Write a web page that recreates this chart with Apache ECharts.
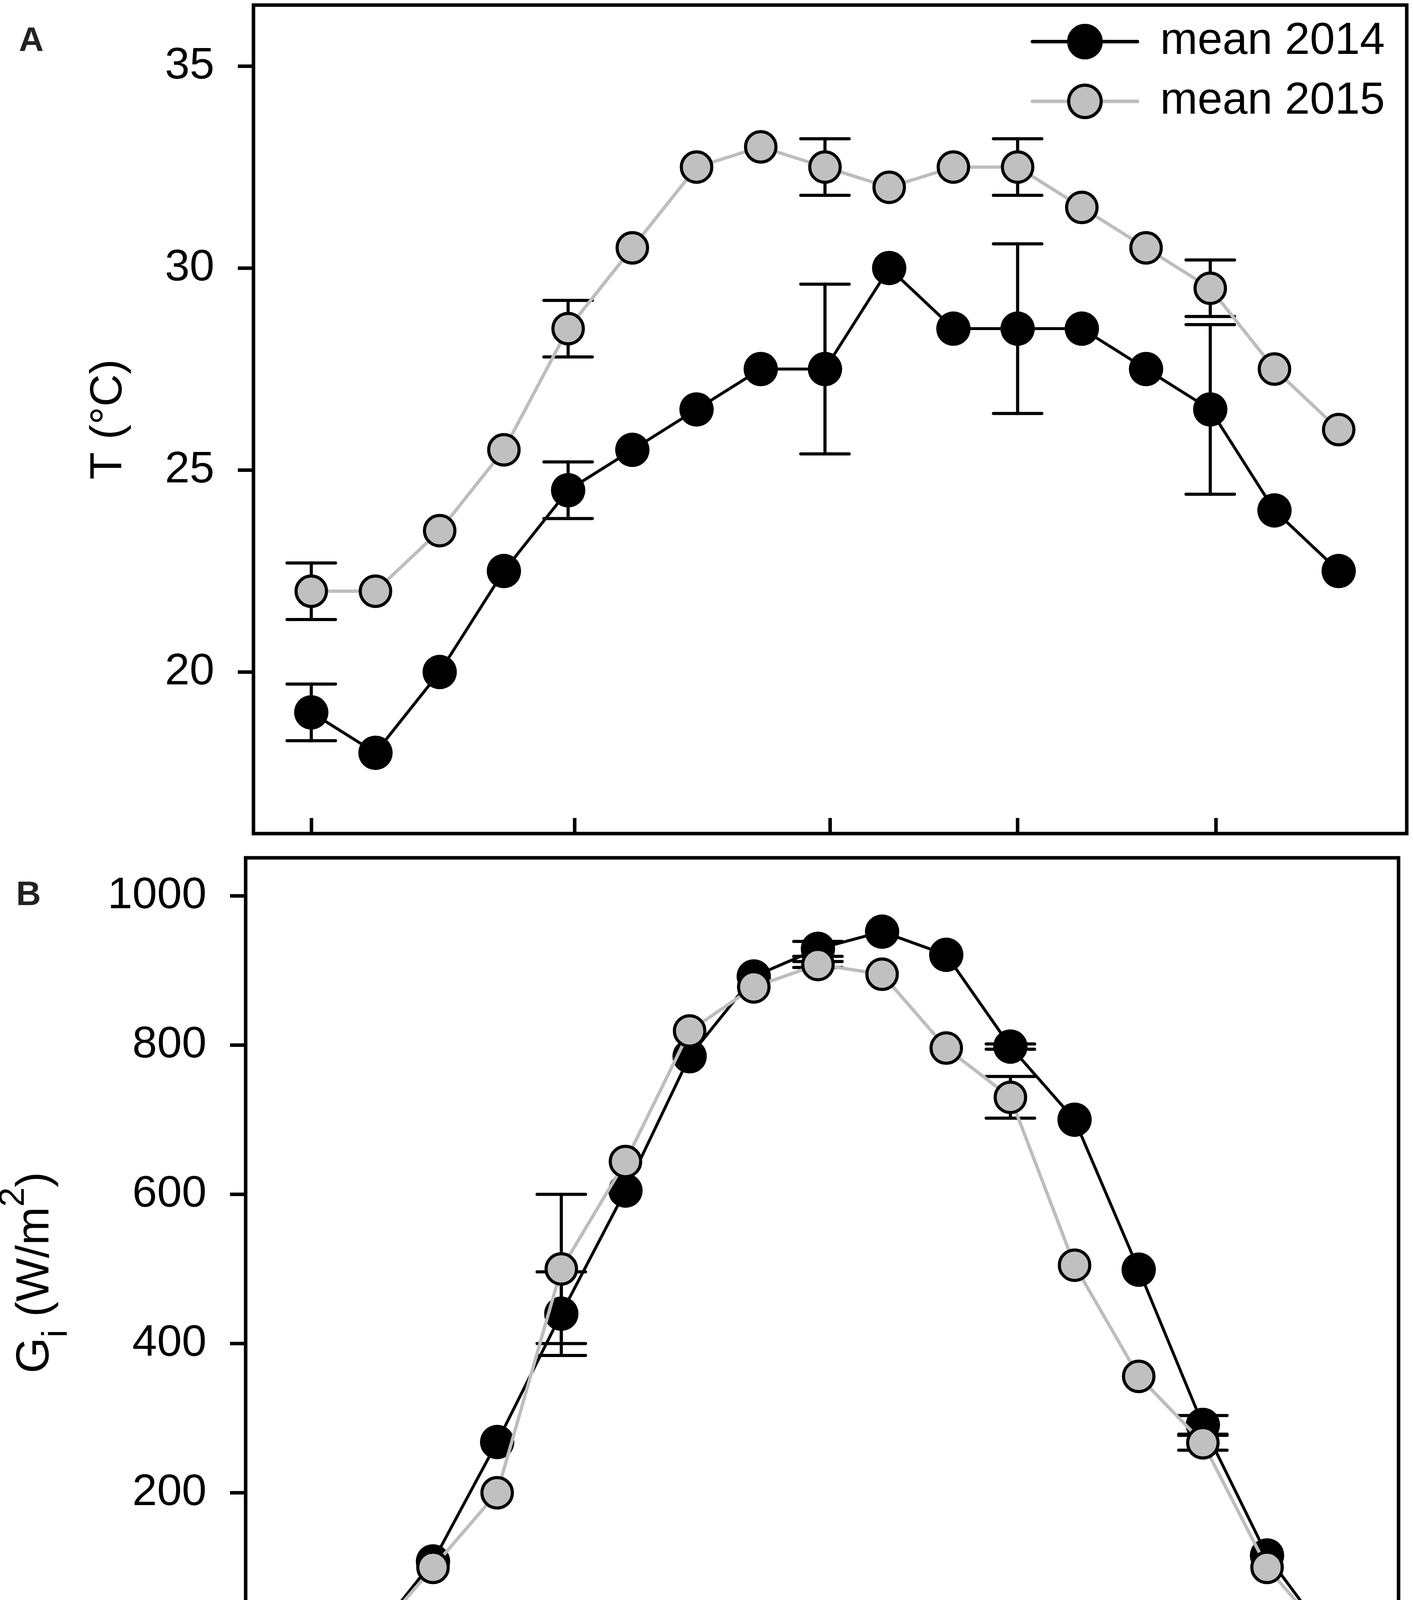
<!DOCTYPE html>
<html>
<head>
<meta charset="utf-8">
<title>T and Gi, mean 2014 / 2015</title>
<script src="https://cdn.jsdelivr.net/npm/echarts@6/dist/echarts.min.js"></script>
<style>
html, body { margin: 0; padding: 0; background: #fff; }
#chart { width: 3618px; height: 4466px; }
</style>
</head>
<body>
<div id="chart"></div>
<script>
// panel A - air temperature, hourly means
var hoursA = [4, 5, 6, 7, 8, 9, 10, 11, 12, 13, 14, 15, 16, 17, 18, 19, 20];
var tempMean2014 = [19, 18, 20, 22.5, 24.5, 25.5, 26.5, 27.5, 27.5, 30, 28.5, 28.5, 28.5, 27.5, 26.5, 24, 22.5];
var tempMean2015 = [22, 22, 23.5, 25.5, 28.5, 30.5, 32.5, 33, 32.5, 32, 32.5, 32.5, 31.5, 30.5, 29.5, 27.5, 26];
var tempErrHours = [4, 8, 12, 15, 18];
var tempErr2014 = [0.7, 0.7, 2.1, 2.1, 2.1];
var tempErr2015 = [0.7, 0.7, 0.7, 0.7, 0.7];
var tempTicks = [20, 25, 30, 35];
var hourTicksA = [4, 8.1, 12.08, 15, 18.09];

// panel B - irradiance, hourly means
var hoursB = [3.9, 4.9, 5.9, 6.9, 7.9, 8.9, 9.9, 10.9, 11.9, 12.9, 13.9, 14.9, 15.9, 16.9, 17.9, 18.9, 19.9, 20.5];
var gi2014 = [0, 0, 108, 268, 440, 605, 785, 892, 929, 952, 921, 798, 700, 499, 291, 116, 0];
var gi2015 = [0, 0, 100, 200, 500, 644, 819, 878, 908, 895, 796, 730, 505, 356, 267, 100, 0, 0];
var giErrHours = [7.9, 11.9, 14.9, 17.9];
var giErr2014 = [56, 10, 3.5, 12.5];
var giErr2015 = [100, 4, 28, 10];
var giTicks = [0, 200, 400, 600, 800, 1000];
var hourTicksB = [4, 7.96, 12, 15.01, 17.9];
var hourTickLabels = ['4:00', '8:00', '12:00', '15:00', '18:00'];

var FONT = '"Liberation Sans", Arial, sans-serif';

function pairs(xs, ys) {
    return ys.map(function (y, i) { return [xs[i], y]; });
}
// [hour, low, high] for every hour that has an error bar
function errRows(errHours, err, xs, ys) {
    return errHours.map(function (h, k) {
        var i = xs.indexOf(h);
        return [h, ys[i] - err[k], ys[i] + err[k]];
    });
}

function renderErrBar(params, api) {
    var top = api.coord([api.value(0), api.value(2)]);
    var bot = api.coord([api.value(0), api.value(1)]);
    var w = 62;
    var st = { stroke: '#000', lineWidth: 8, lineCap: 'round' };
    return {
        type: 'group',
        children: [
            { type: 'line', shape: { x1: top[0], y1: top[1], x2: bot[0], y2: bot[1] }, style: st },
            { type: 'line', shape: { x1: top[0] - w, y1: top[1], x2: top[0] + w, y2: top[1] }, style: st },
            { type: 'line', shape: { x1: bot[0] - w, y1: bot[1], x2: bot[0] + w, y2: bot[1] }, style: st }
        ]
    };
}

function errSeries(data, gi) {
    return {
        type: 'custom',
        xAxisIndex: gi,
        yAxisIndex: gi,
        data: data,
        encode: { x: 0, y: [1, 2] },
        renderItem: renderErrBar,
        clip: false,
        silent: true,
        z: 2
    };
}

function blackLine(data, gi) {
    return {
        type: 'line',
        name: 'mean 2014',
        xAxisIndex: gi,
        yAxisIndex: gi,
        data: data,
        symbol: 'circle',
        symbolSize: 88,
        itemStyle: { color: '#000' },
        lineStyle: { color: '#000', width: 7.5 },
        silent: true,
        z: 3
    };
}

function grayLine(data, gi) {
    return {
        type: 'line',
        name: 'mean 2015',
        xAxisIndex: gi,
        yAxisIndex: gi,
        data: data,
        symbol: 'circle',
        symbolSize: 78,
        itemStyle: { color: '#c0c0c0', borderColor: '#000', borderWidth: 8 },
        lineStyle: { color: '#bdbdbd', width: 8.5 },
        silent: true,
        z: 4
    };
}

var tickLine = { color: '#000', width: 9 };
var labelFont = { fontSize: 114, color: '#000', fontFamily: FONT };
function plainNumber(v) { return String(v); }

var myChart = echarts.init(document.getElementById('chart'));

var option = {
    animation: false,
    backgroundColor: '#fff',
    textStyle: { fontFamily: FONT },
    graphic: [
        { type: 'text', x: 80, y: 106, style: { text: 'A', fontSize: 88, fontWeight: 'bold', fontFamily: FONT, fill: '#222', align: 'center', verticalAlign: 'middle' } },
        { type: 'text', x: 73, y: 2293, style: { text: 'B', fontSize: 88, fontWeight: 'bold', fontFamily: FONT, fill: '#222', align: 'center', verticalAlign: 'middle' } }
    ],
    legend: {
        data: [
            { name: 'mean 2014', lineStyle: { width: 9, color: '#000', cap: 'round' } },
            { name: 'mean 2015', lineStyle: { width: 9, color: '#bdbdbd', cap: 'round' } }
        ],
        orient: 'vertical',
        left: 2639,
        top: 49,
        padding: 0,
        itemWidth: 269,
        itemHeight: 104,
        itemGap: 38,
        selectedMode: false,
        formatter: '{t|{name}}',
        itemStyle: { borderWidth: 8, borderColor: '#000' },
        lineStyle: { width: 9, cap: 'round' },
        textStyle: {
            rich: { t: { fontSize: 115, lineHeight: 104, color: '#000', fontFamily: FONT, padding: [0, 0, 0, 53] } }
        }
    },
    grid: [
        { left: 649, right: 16, top: 13, height: 2121, show: true, borderColor: '#000', borderWidth: 9, outerBoundsMode: 'none' },
        { left: 629, right: 37, top: 2196, height: 2124, show: true, borderColor: '#000', borderWidth: 9, outerBoundsMode: 'none' }
    ],
    xAxis: [
        {
            gridIndex: 0, type: 'value', min: 3.1, max: 21.06,
            axisLine: { show: false },
            axisTick: { show: true, inside: true, length: 40, lineStyle: tickLine, customValues: hourTicksA },
            axisLabel: { show: false },
            splitLine: { show: false }
        },
        {
            gridIndex: 1, type: 'value', min: 2.98, max: 20.95,
            axisLine: { show: false },
            axisTick: { show: true, inside: true, length: 40, lineStyle: tickLine, customValues: hourTicksB },
            axisLabel: {
                customValues: hourTicksB,
                margin: 46,
                fontSize: 114, color: '#000', fontFamily: FONT,
                formatter: function (v) {
                    var best = 0;
                    hourTicksB.forEach(function (t, i) {
                        if (Math.abs(t - v) < Math.abs(hourTicksB[best] - v)) best = i;
                    });
                    return hourTickLabels[best];
                }
            },
            splitLine: { show: false }
        }
    ],
    yAxis: [
        {
            gridIndex: 0, type: 'value', min: 16, max: 36.51,
            axisLine: { show: false },
            axisTick: { show: true, length: 40, lineStyle: tickLine, customValues: tempTicks },
            axisLabel: Object.assign({ customValues: tempTicks, margin: 100, formatter: plainNumber }, labelFont),
            splitLine: { show: false },
            name: '{a|T (°C)}',
            nameLocation: 'middle',
            nameGap: 270,
            nameTextStyle: { rich: { a: { fontSize: 115, lineHeight: 200, color: '#000', fontFamily: FONT } } }
        },
        {
            gridIndex: 1, type: 'value', min: -61, max: 1051,
            axisLine: { show: false },
            axisTick: { show: true, length: 40, lineStyle: tickLine, customValues: giTicks },
            axisLabel: Object.assign({ customValues: giTicks, margin: 100, formatter: plainNumber }, labelFont),
            splitLine: { show: false },
            name: '{a|G}{s|i}{a| (W/m}{p|2}{a|)}',
            nameLocation: 'middle',
            nameGap: 438,
            nameTextStyle: {
                rich: {
                    a: { fontSize: 118, lineHeight: 200, color: '#000', fontFamily: FONT },
                    s: { fontSize: 90, lineHeight: 114, verticalAlign: 'bottom', color: '#000', fontFamily: FONT },
                    p: { fontSize: 90, lineHeight: 96, verticalAlign: 'top', color: '#000', fontFamily: FONT }
                }
            }
        }
    ],
    series: [
        errSeries(errRows(tempErrHours, tempErr2014, hoursA, tempMean2014), 0),
        errSeries(errRows(tempErrHours, tempErr2015, hoursA, tempMean2015), 0),
        blackLine(pairs(hoursA, tempMean2014), 0),
        grayLine(pairs(hoursA, tempMean2015), 0),
        errSeries(errRows(giErrHours, giErr2014, hoursB, gi2014), 1),
        errSeries(errRows(giErrHours, giErr2015, hoursB, gi2015), 1),
        blackLine(pairs(hoursB, gi2014), 1),
        grayLine(pairs(hoursB, gi2015), 1)
    ]
};

myChart.setOption(option);
</script>
</body>
</html>
